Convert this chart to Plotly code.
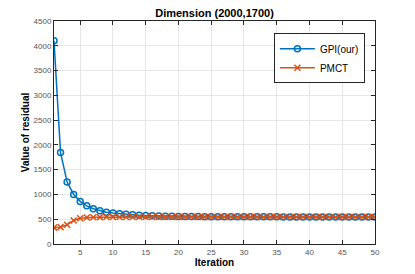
import plotly.graph_objects as go

iterations = list(range(1, 51))
gpi = [4100, 1845, 1250, 1000, 860, 770, 712, 672, 643, 625, 610, 598, 588, 580, 574,
       569, 565, 562, 559, 557, 555, 554, 553, 552, 551, 550, 550, 549, 549, 549,
       548, 548, 548, 548, 548, 547, 547, 547, 547, 547, 547, 547, 547, 547, 547,
       547, 547, 547, 547, 547]
pmct = [330, 340, 390, 475, 520, 535, 540, 542, 543, 544, 544, 545, 545, 545, 545,
        545, 545, 545, 545, 545, 545, 545, 545, 545, 545, 545, 545, 545, 545, 545,
        545, 545, 545, 545, 545, 545, 545, 545, 545, 545, 545, 545, 545, 545, 545,
        545, 545, 545, 545, 545]
x_ticks = [5, 10, 15, 20, 25, 30, 35, 40, 45, 50]
y_ticks = list(range(0, 4501, 500))

fig = go.Figure()
fig.add_trace(go.Scatter(x=iterations, y=gpi, name="GPI(our)", mode="lines+markers",
                         line=dict(color="#0072BD", width=1.5),
                         marker=dict(symbol="circle-open", size=6, color="#0072BD",
                                     line=dict(width=1.5))))
fig.add_trace(go.Scatter(x=iterations, y=pmct, name="PMCT", mode="lines+markers",
                         line=dict(color="#D95319", width=1.5),
                         marker=dict(symbol="x-thin-open", size=6, color="#D95319",
                                     line=dict(width=1.5, color="#D95319"))))

axis_common = dict(showline=True, linecolor="#262626", linewidth=1, mirror="ticks",
                   ticks="inside", ticklen=4, tickcolor="#262626", automargin=False,
                   showgrid=True, gridcolor="#E6E6E6", gridwidth=1, zeroline=False,
                   tickfont=dict(family="Liberation Sans, Arial", size=8, color="#555"))

fig.update_layout(
    width=407, height=266,
    margin=dict(l=46, r=40, t=13, b=30),
    paper_bgcolor="white", plot_bgcolor="white",
    title=dict(text="<b>Dimension (2000,1700)</b>", x=0.5, xref="paper", y=0.995, yanchor="top",
               font=dict(family="Liberation Sans, Arial", size=11, color="#000")),
    xaxis=dict(range=[1, 50], tickvals=x_ticks,
               title=dict(text="<b>Iteration</b>", standoff=0,
                          font=dict(family="Liberation Sans, Arial", size=10, color="#000")),
               **axis_common),
    yaxis=dict(range=[0, 4500], tickvals=y_ticks,
               title=dict(text="<b>Value of residual</b>", standoff=2,
                          font=dict(family="Liberation Sans, Arial", size=10, color="#000")),
               **axis_common),
    legend=dict(x=0.685, y=0.945, xanchor="left", yanchor="top",
                bgcolor="white", bordercolor="#262626", borderwidth=1,
                font=dict(family="Liberation Sans, Arial", size=10, color="#000"),
                itemwidth=35, tracegroupgap=4),
    showlegend=True,
)

fig.write_html("out.html")
